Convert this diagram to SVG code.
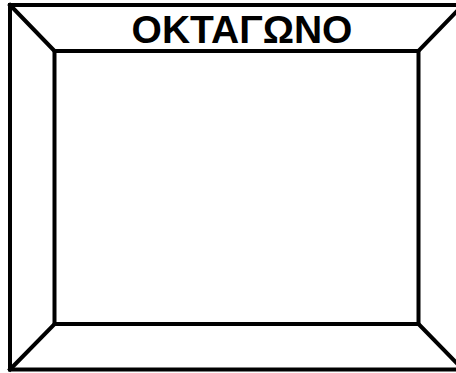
<svg xmlns="http://www.w3.org/2000/svg" width="456" height="373" viewBox="0 0 456 373">
<style>
.ln{fill:none;stroke:#000;stroke-width:4;stroke-linecap:square;stroke-linejoin:miter}
.t{font-family:"Liberation Sans",Arial,sans-serif;font-weight:bold;font-size:39px;fill:#000;text-anchor:middle}
</style>
<rect width="456" height="373" fill="#fff"/>
<g id="frame">
<rect class="ln" x="10" y="5" width="453" height="364.5"/>
<rect class="ln" x="54.5" y="51" width="364" height="273"/>
<path class="ln" d="M10,5 L54.5,51 M418.5,51 L463,5 M54.5,324 L10,369.5 M418.5,324 L463,369.5"/>
</g>
<text class="t" x="242" y="43">ΟΚΤΑΓΩΝΟ</text>
</svg>
